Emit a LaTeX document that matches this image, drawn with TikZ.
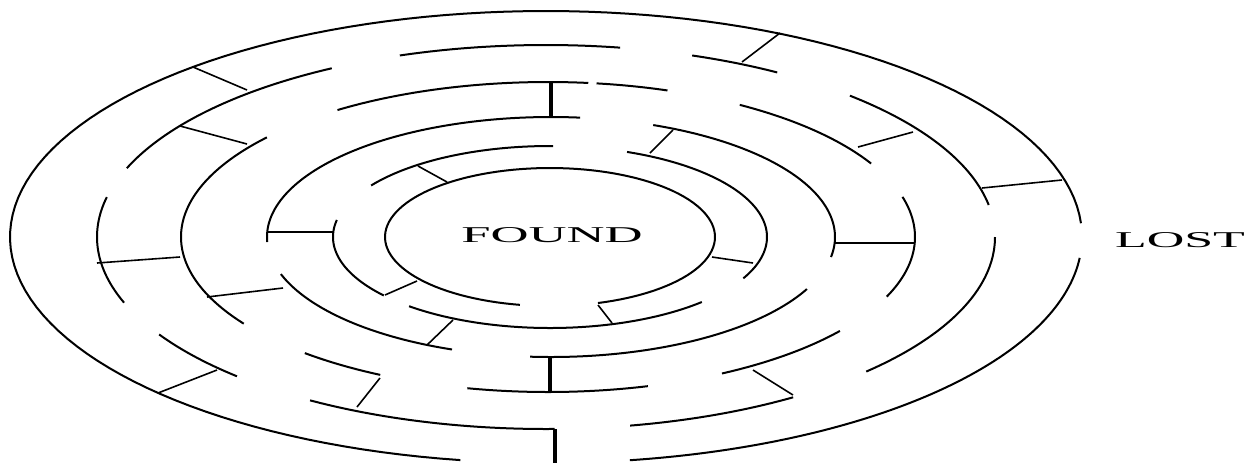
\documentclass[tikz,border=0pt]{standalone}
\usepackage{graphicx}
\usepackage{fontspec}
\setmainfont{Liberation Serif}
\newcommand\mzarc[5]{\draw[mzring] plot[domain=#4:#5,samples=120] ({#1+#2*cos(\x)},{237+#3*sin(\x)});}
\begin{document}
\begin{tikzpicture}[x=0.5pt,y=-0.5pt,
  mzring/.style={line width=1pt},
  mzwall/.style={line width=0.8pt},
  mzbar/.style={line width=2pt},
  mzlabel/.style={inner sep=0pt, font=\fontsize{11.3}{12}\selectfont}]
\fill[white] (0,0) rectangle (1255,463);
\useasboundingbox (0,0) rectangle (1255,463);
% ring 1 (outer)
\mzarc{546}{536}{226}{5.3}{81}
\mzarc{546}{536}{226}{99.2}{356.5}
% ring 2
\mzarc{546}{449}{192}{201}{241.5}
\mzarc{546}{449}{192}{251}{279.5}
\mzarc{546}{449}{192}{289}{301}
\mzarc{546}{449}{192}{312.6}{350.4}
\mzarc{546}{449}{192}{0}{44.5}
\mzarc{546}{449}{192}{56.6}{79.2}
\mzarc{546}{449}{192}{88.9}{121.7}
\mzarc{546}{449}{192}{133.5}{149.5}
\mzarc{546}{449}{192}{160}{192}
% ring 3
\mzarc{548}{367}{155}{146}{220}
\mzarc{548}{367}{155}{235}{276.3}
\mzarc{548}{367}{155}{277.6}{289}
\mzarc{548}{367}{155}{301.5}{331.7}
\mzarc{548}{367}{155}{-15}{22.6}
\mzarc{548}{367}{155}{37.3}{61.7}
\mzarc{548}{367}{155}{74.2}{102.7}
\mzarc{548}{367}{155}{117.2}{131.5}
% ring 4
\mzarc{551}{284}{120}{177.6}{275.9}
\mzarc{551}{284}{120}{291.1}{369.6}
\mzarc{551}{284}{120}{25.7}{94.2}
\mzarc{551}{284}{120}{110.4}{162}
% ring 5
\mzarc{550}{217}{91}{140}{190.8}
\mzarc{550}{217}{91}{214.5}{270.8}
\mzarc{550}{217}{91}{290.8}{387}
\mzarc{550}{217}{91}{45.6}{130.5}
% ring 6 (FOUND)
\mzarc{550}{165}{69}{100.5}{433.1}
% walls ring1-ring2
\draw[mzwall] (193,67) -- (247,90);
\draw[mzwall] (780,33) -- (742,62);
\draw[mzwall] (1062,180) -- (982,188);
\draw[mzwall] (158,393) -- (217,370);
\draw[mzbar] (555,429) -- (555,463);
% walls ring2-ring3
\draw[mzwall] (180,126) -- (247,144);
\draw[mzwall] (97,263) -- (180,257);
\draw[mzwall] (357,407) -- (380,378);
\draw[mzwall] (793,395) -- (753,370);
\draw[mzwall] (913,132) -- (858,147);
% walls ring3-ring4
\draw[mzwall] (207,297) -- (283,288);
\draw[mzwall] (835,243) -- (915,243);
\draw[mzbar] (550,358) -- (550,393);
\draw[mzbar] (551,82) -- (551,117);
% walls ring4-ring5
\draw[mzwall] (267,232) -- (333,232);
\draw[mzwall] (673,130) -- (650,153);
\draw[mzwall] (453,320) -- (427,345);
% walls ring5-ring6
\draw[mzwall] (418,166) -- (447,182);
\draw[mzwall] (385,295) -- (417,281);
\draw[mzwall] (612,323) -- (598,305);
\draw[mzwall] (753,263) -- (712,257);
% labels
\node[mzlabel] (found) at (552,235) {\scalebox{2.33}[1]{FOUND}};
\node[mzlabel] (lost) at (1180,240) {\scalebox{2.3}[1]{LOST}};
\end{tikzpicture}
\end{document}
